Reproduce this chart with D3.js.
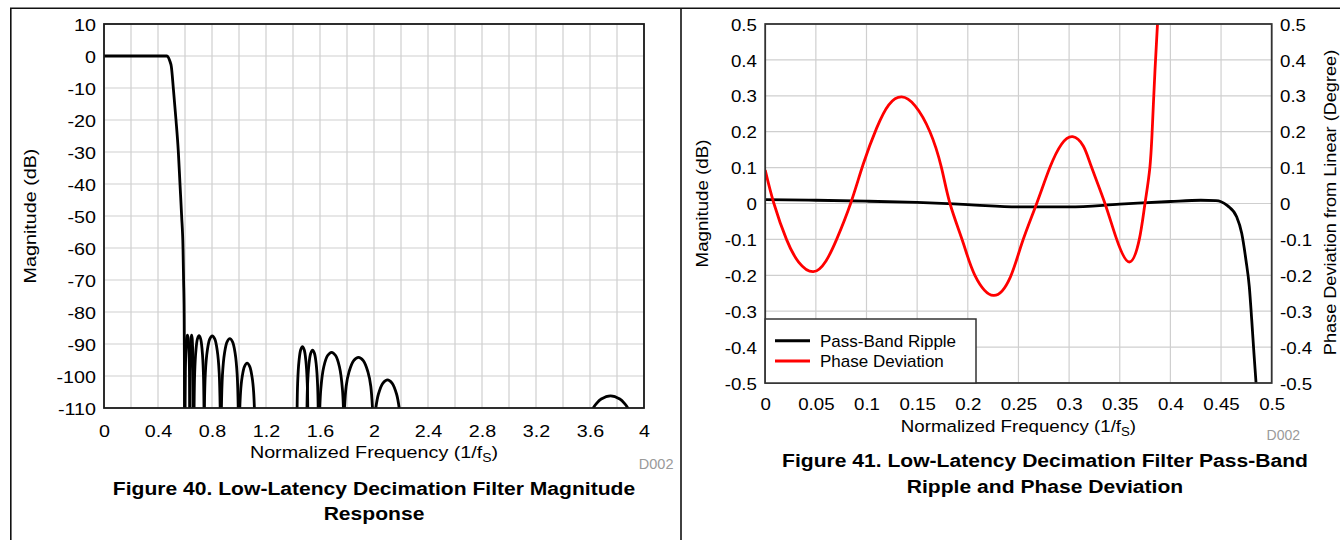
<!DOCTYPE html>
<html><head><meta charset="utf-8">
<script src="https://cdn.jsdelivr.net/npm/d3@7"></script>
<style>
html,body{margin:0;padding:0;background:#fff;}
svg{display:block;}
</style></head><body>
<svg id="chart" width="1340" height="540"></svg>
<script>
// ---------- Figure 40 data ----------
const magXTickValues = [0, 0.4, 0.8, 1.2, 1.6, 2, 2.4, 2.8, 3.2, 3.6, 4];
const magXTickLabels = ["0", "0.4", "0.8", "1.2", "1.6", "2", "2.4", "2.8", "3.2", "3.6", "4"];
const magXGrid = [0, 0.2, 0.4, 0.6, 0.8, 1, 1.2, 1.4, 1.6, 1.8, 2, 2.2, 2.4, 2.6, 2.8, 3, 3.2, 3.4, 3.6, 3.8, 4];
const magYTickValues = [10, 0, -10, -20, -30, -40, -50, -60, -70, -80, -90, -100, -110];
const magYTickLabels = ["10", "0", "-10", "-20", "-30", "-40", "-50", "-60", "-70", "-80", "-90", "-100", "-110"];

// pass band + transition band (frequency, dB)
const mainResponse = [[0,0],[0.2,0],[0.4,0],[0.465,0],[0.4765,-0.42],[0.487,-1.5],[0.4988,-3.33],[0.5136,-10.1],[0.5333,-20],[0.5506,-29.9],[0.563,-40.1],[0.5753,-50.2],[0.5852,-60],[0.5895,-70],[0.5935,-80],[0.5955,-95],[0.5965,-118]];

// stop band lobes, group near 0.6 - 1.12
const lobesGroup1 = [
 [[0.600,-118],[0.6028,-98.7],[0.6071,-91.7],[0.6124,-88.2],[0.618,-87.2],[0.6236,-88.2],[0.6289,-91.7],[0.6332,-98.7],[0.636,-118]],
 [[0.6361,-118],[0.6381,-98.7],[0.6412,-91.7],[0.645,-88.2],[0.649,-87.2],[0.653,-88.2],[0.6568,-91.7],[0.6599,-98.7],[0.6619,-118]],
 [[0.6659,-118],[0.6718,-98.9],[0.6811,-91.9],[0.6922,-88.4],[0.704,-87.4],[0.7158,-88.4],[0.7269,-91.9],[0.7362,-98.9],[0.7421,-118]],
 [[0.7412,-118],[0.7507,-99],[0.7654,-92],[0.7831,-88.5],[0.802,-87.5],[0.8209,-88.5],[0.8386,-92],[0.8533,-99],[0.8628,-118]],
 [[0.8671,-118],[0.8772,-99.8],[0.8929,-92.8],[0.9118,-89.3],[0.932,-88.3],[0.9522,-89.3],[0.9711,-92.8],[0.9868,-99.8],[0.9969,-118]],
 [[1.0,-118],[1.0116,-105],[1.0226,-100.5],[1.0411,-97],[1.06,-96],[1.0789,-97],[1.0974,-100.5],[1.1084,-105],[1.12,-118]]
];
// stop band lobes, group near 1.42 - 2.2
const lobesGroup2 = [
 [[1.4288,-118],[1.4343,-102.3],[1.4445,-95.3],[1.4571,-91.8],[1.47,-90.8],[1.4829,-91.8],[1.4955,-95.3],[1.5057,-102.3],[1.5112,-118]],
 [[1.5017,-118],[1.5072,-103.4],[1.5179,-96.4],[1.5313,-92.9],[1.545,-91.9],[1.5587,-92.9],[1.5721,-96.4],[1.5828,-103.4],[1.5883,-118]],
 [[1.5934,-118],[1.6059,-104.1],[1.6281,-97.1],[1.6566,-93.6],[1.686,-92.6],[1.7154,-93.6],[1.7439,-97.1],[1.7661,-104.1],[1.7786,-118]],
 [[1.7726,-118],[1.7938,-103.2],[1.815,-98.7],[1.8495,-95.2],[1.885,-94.2],[1.9205,-95.2],[1.955,-98.7],[1.9762,-103.2],[1.9974,-118]],
 [[1.997,-118],[2.0135,-110],[2.0325,-105.7],[2.0663,-102.2],[2.1,-101.2],[2.1337,-102.2],[2.1675,-105.7],[2.1865,-110],[2.203,-118]]
];
// stop band lobe near 3.75
const lobesGroup3 = [
 [[3.559,-118],[3.6245,-110],[3.646,-108.7],[3.683,-107.2],[3.752,-106.2],[3.821,-107.2],[3.858,-108.7],[3.8795,-110],[3.945,-118]]
];

// ---------- Figure 41 data ----------
const ripXTickValues = [0, 0.05, 0.1, 0.15, 0.2, 0.25, 0.3, 0.35, 0.4, 0.45, 0.5];
const ripXTickLabels = ["0", "0.05", "0.1", "0.15", "0.2", "0.25", "0.3", "0.35", "0.4", "0.45", "0.5"];
const ripYTickValues = [0.5, 0.4, 0.3, 0.2, 0.1, 0, -0.1, -0.2, -0.3, -0.4, -0.5];
const ripYTickLabels = ["0.5", "0.4", "0.3", "0.2", "0.1", "0", "-0.1", "-0.2", "-0.3", "-0.4", "-0.5"];
const seriesNames = ["Pass-Band Ripple", "Phase Deviation"];
const seriesColors = ["#000000", "#ff0000"];

const passBandRipple = [[0,0.011],[0.05,0.009],[0.1,0.0064],[0.15,0.003],[0.2,-0.003],[0.25,-0.0095],[0.3,-0.0095],[0.35,-0.002],[0.4,0.0056],[0.43,0.009],[0.445,0.008],[0.45,0.005],[0.4563,-0.006],[0.4654,-0.037],[0.4704,-0.083],[0.4746,-0.158],[0.4779,-0.232],[0.4803,-0.325],[0.4825,-0.418],[0.4845,-0.498],[0.486,-0.56]];
const phaseDeviation = [[0,0.093],[0.0086,0],[0.021,-0.1],[0.033,-0.163],[0.0475,-0.19],[0.060,-0.16],[0.0705,-0.1],[0.0843,0],[0.0968,0.11],[0.11,0.21],[0.122,0.275],[0.1347,0.297],[0.148,0.272],[0.1626,0.2],[0.174,0.1],[0.1824,0],[0.1955,-0.11],[0.207,-0.2],[0.2253,-0.256],[0.242,-0.205],[0.2535,-0.11],[0.268,0],[0.281,0.1],[0.2925,0.165],[0.3035,0.186],[0.314,0.16],[0.3223,0.1],[0.3354,0],[0.347,-0.1],[0.3594,-0.163],[0.3693,-0.1],[0.3749,0],[0.3798,0.102],[0.3825,0.232],[0.3848,0.372],[0.3871,0.492],[0.389,0.58]];

// ---------- drawing ----------
const FONT = '"Liberation Sans", Arial, Helvetica, sans-serif';
const svg = d3.select("#chart");

// outer frame
svg.append("line").attr("x1",10).attr("x2",1340).attr("y1",8.3).attr("y2",8.3).attr("stroke","#111").attr("stroke-width",1.6);
svg.append("line").attr("x1",10.8).attr("x2",10.8).attr("y1",8).attr("y2",540).attr("stroke","#111").attr("stroke-width",1.6);
svg.append("line").attr("x1",681).attr("x2",681).attr("y1",8).attr("y2",540).attr("stroke","#111").attr("stroke-width",1.6);

function addText(x, y, str, size, sx, opts) {
  opts = opts || {};
  const t = svg.append("text")
    .attr("transform", `translate(${x},${y})` + (opts.rotate ? ` rotate(${opts.rotate})` : "") + ` scale(${sx},1)`)
    .attr("text-anchor", opts.anchor || "middle")
    .attr("font-family", FONT).attr("font-size", size)
    .attr("font-weight", opts.bold ? "bold" : "normal")
    .attr("fill", opts.fill || "#000");
  return t;
}

function styleAxis(g, sx, xOff, yOff, anchor) {
  g.attr("font-family", FONT).attr("font-size", 17).attr("color", "#000");
  g.select(".domain").remove();
  g.selectAll(".tick line").remove();
  g.selectAll(".tick text")
    .attr("x", xOff / sx).attr("y", yOff).attr("dy", null)
    .attr("text-anchor", anchor)
    .attr("transform", `scale(${sx},1)`)
    .attr("fill", "#000");
}

// ===== Figure 40 =====
(function(){
  const x0 = 104, x1 = 644, y0 = 24, y1 = 408, sx = 1.16;
  const x = d3.scaleLinear().domain([0, 4]).range([x0, x1]);
  const y = d3.scaleLinear().domain([-110, 10]).range([y1, y0]);
  svg.append("defs").append("clipPath").attr("id","clipL").append("rect")
    .attr("x",x0).attr("y",y0).attr("width",x1-x0).attr("height",y1-y0);
  const grid = svg.append("g").attr("stroke","#cfcfcf").attr("stroke-width",1.2);
  magXGrid.forEach(v => grid.append("line").attr("x1",x(v)).attr("x2",x(v)).attr("y1",y0).attr("y2",y1));
  magYTickValues.forEach(v => grid.append("line").attr("x1",x0).attr("x2",x1).attr("y1",y(v)).attr("y2",y(v)));

  const plot = svg.append("g").attr("clip-path","url(#clipL)");
  const lineMono = d3.line().x(d=>x(d[0])).y(d=>y(d[1])).curve(d3.curveMonotoneX);
  const lineLobe = d3.line().x(d=>x(d[0])).y(d=>y(d[1])).curve(d3.curveCatmullRom.alpha(0.5));
  plot.append("path").datum(mainResponse).attr("d",lineMono).attr("fill","none").attr("stroke","#000").attr("stroke-width",2.8);
  [].concat(lobesGroup1, lobesGroup2, lobesGroup3).forEach(l => {
    plot.append("path").datum(l).attr("d",lineLobe).attr("fill","none").attr("stroke","#000").attr("stroke-width",2.8);
  });
  svg.append("rect").attr("x",x0).attr("y",y0).attr("width",x1-x0).attr("height",y1-y0)
    .attr("fill","none").attr("stroke","#1a1a1a").attr("stroke-width",1.8);

  const gx = svg.append("g").attr("transform",`translate(0,${y1})`)
    .call(d3.axisBottom(x).tickValues(magXTickValues).tickFormat((d,i)=>magXTickLabels[i]).tickSize(0));
  styleAxis(gx, sx, 0, 29, "middle");
  const gy = svg.append("g").attr("transform",`translate(${x0},0)`)
    .call(d3.axisLeft(y).tickValues(magYTickValues).tickFormat((d,i)=>magYTickLabels[i]).tickSize(0));
  styleAxis(gy, sx, -8, 6.1, "end");

  const xt = addText(374, 458, "", 17, sx);
  xt.append("tspan").text("Normalized Frequency (1/f");
  xt.append("tspan").attr("font-size",12).attr("dy",3.5).text("S");
  xt.append("tspan").attr("dy",-3.5).text(")");
  addText(35.5, 216, "", 17, sx, {rotate:-90}).text("Magnitude (dB)");
  addText(673.5, 469, "", 14.5, 1.0, {anchor:"end", fill:"#9a9a9a"}).text("D002");
  addText(374, 495, "", 18.5, 1.14, {bold:true}).text("Figure 40. Low-Latency Decimation Filter Magnitude");
  addText(374, 520, "", 18.5, 1.14, {bold:true}).text("Response");
})();

// ===== Figure 41 =====
(function(){
  const x0 = 765.2, x1 = 1271.7, y0 = 24, y1 = 383, sx = 1.1;
  const x = d3.scaleLinear().domain([0, 0.5]).range([x0, x1]);
  const y = d3.scaleLinear().domain([-0.5, 0.5]).range([y1, y0]);
  svg.select("defs").append("clipPath").attr("id","clipR").append("rect")
    .attr("x",x0).attr("y",y0).attr("width",x1-x0).attr("height",y1-y0);
  const grid = svg.append("g").attr("stroke","#cfcfcf").attr("stroke-width",1.2);
  ripXTickValues.forEach(v => grid.append("line").attr("x1",x(v)).attr("x2",x(v)).attr("y1",y0).attr("y2",y1));
  ripYTickValues.forEach(v => grid.append("line").attr("x1",x0).attr("x2",x1).attr("y1",y(v)).attr("y2",y(v)));

  const plot = svg.append("g").attr("clip-path","url(#clipR)");
  const lineBlack = d3.line().x(d=>x(d[0])).y(d=>y(d[1])).curve(d3.curveMonotoneX);
  const lineRed = d3.line().x(d=>x(d[0])).y(d=>y(d[1])).curve(d3.curveNatural);
  plot.append("path").datum(passBandRipple).attr("d",lineBlack).attr("fill","none").attr("stroke",seriesColors[0]).attr("stroke-width",2.8);
  plot.append("path").datum(phaseDeviation).attr("d",lineRed).attr("fill","none").attr("stroke",seriesColors[1]).attr("stroke-width",2.8);
  svg.append("rect").attr("x",x0).attr("y",y0).attr("width",x1-x0).attr("height",y1-y0)
    .attr("fill","none").attr("stroke","#333").attr("stroke-width",1.8);

  const gx = svg.append("g").attr("transform",`translate(0,${y1})`)
    .call(d3.axisBottom(x).tickValues(ripXTickValues).tickFormat((d,i)=>ripXTickLabels[i]).tickSize(0));
  styleAxis(gx, sx, 0, 27.3, "middle");
  const gy = svg.append("g").attr("transform",`translate(${x0},0)`)
    .call(d3.axisLeft(y).tickValues(ripYTickValues).tickFormat((d,i)=>ripYTickLabels[i]).tickSize(0));
  styleAxis(gy, sx, -8.3, 6.1, "end");
  const gy2 = svg.append("g").attr("transform",`translate(${x1},0)`)
    .call(d3.axisRight(y).tickValues(ripYTickValues).tickFormat((d,i)=>ripYTickLabels[i]).tickSize(0));
  styleAxis(gy2, sx, 8.3, 6.1, "start");

  // legend
  const lg = svg.append("g");
  lg.append("rect").attr("x",x0).attr("y",319).attr("width",976-x0).attr("height",y1-319)
    .attr("fill","#fff").attr("stroke","#333").attr("stroke-width",1.5);
  seriesNames.forEach((name, i) => {
    const ly = 340.7 + i * 20.3;
    lg.append("line").attr("x1",775).attr("x2",810).attr("y1",ly).attr("y2",ly)
      .attr("stroke",seriesColors[i]).attr("stroke-width",3);
    lg.append("text").attr("x",820).attr("y",ly + 6.1).attr("font-family",FONT).attr("font-size",17)
      .attr("fill","#000").text(name);
  });

  const xt = addText((x0+x1)/2, 432, "", 17, sx);
  xt.append("tspan").text("Normalized Frequency (1/f");
  xt.append("tspan").attr("font-size",12).attr("dy",3.5).text("S");
  xt.append("tspan").attr("dy",-3.5).text(")");
  addText(707.5, 203.5, "", 17, sx, {rotate:-90}).text("Magnitude (dB)");
  addText(1335.5, 202.5, "", 16.5, sx, {rotate:-90}).text("Phase Deviation from Linear (Degree)");
  addText(1300, 440, "", 14, 1.0, {anchor:"end", fill:"#9a9a9a"}).text("D002");
  addText(1045, 467, "", 18.5, 1.14, {bold:true}).text("Figure 41. Low-Latency Decimation Filter Pass-Band");
  addText(1045, 493, "", 18.5, 1.14, {bold:true}).text("Ripple and Phase Deviation");
})();
</script>
</body></html>
